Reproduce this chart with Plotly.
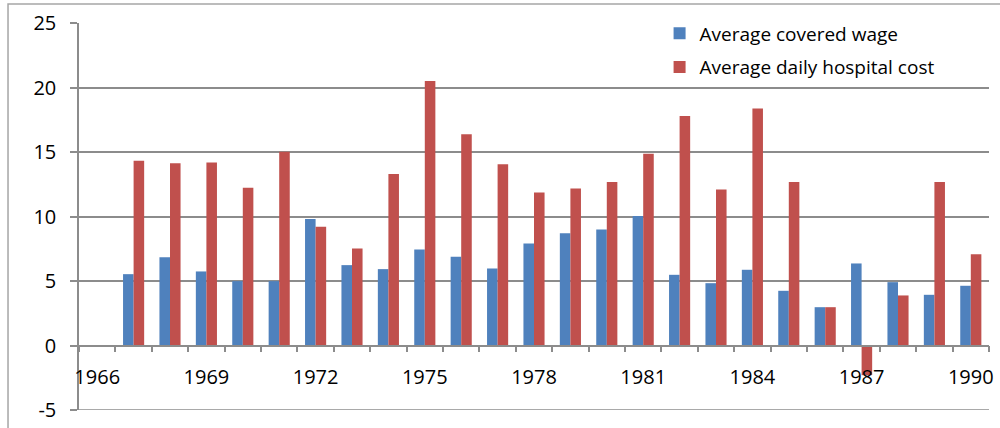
import plotly.graph_objects as go

# Annual percentage change, 1966-1990
years = [str(y) for y in range(1966, 1991)]
covered_wage = [None, 5.53, 6.85, 5.74, 4.99, 4.99, 9.80, 6.23, 5.92, 7.45, 6.88, 5.97,
                7.91, 8.71, 9.00, 10.03, 5.48, 4.83, 5.87, 4.24, 2.97, 6.36, 4.91, 3.93, 4.63]
hospital_cost = [None, 14.32, 14.12, 14.19, 12.23, 15.02, 9.20, 7.52, 13.29, 20.50, 16.37, 14.06,
                 11.87, 12.18, 12.67, 14.87, 17.79, 12.10, 18.38, 12.67, 2.97, -2.30, 3.88, 12.67, 7.08]
labelled_years = years[::3]
y_ticks = [-5, 0, 5, 10, 15, 20, 25]
series_names = ["Average covered wage", "Average daily hospital cost"]

FONT = "Open Sans"
GRID = "#8c8c8c"

fig = go.Figure()
fig.add_trace(go.Bar(x=years, y=covered_wage, name=series_names[0], legendgroup="a",
                     marker=dict(color="#4F81BD", line=dict(width=0))))
fig.add_trace(go.Bar(x=years, y=hospital_cost, name=series_names[1], legendgroup="b",
                     marker=dict(color="#C0504D", line=dict(width=0))))

fig.update_layout(
    width=1000, height=428,
    margin=dict(l=79, r=11, t=23, b=18),
    paper_bgcolor="white", plot_bgcolor="white",
    barmode="group", bargap=0.42, bargroupgap=0,
    font=dict(family=FONT, size=19, color="black"),
    showlegend=True,
    legend=dict(x=0.638, y=1.022, xanchor="left", yanchor="top",
                bgcolor="rgba(0,0,0,0)", tracegroupgap=6,
                font=dict(family=FONT, size=19, color="black")),
    xaxis=dict(type="category", categoryorder="array", categoryarray=years,
               range=[-0.5, len(years) - 0.5],
               anchor="free", position=5 / 30, automargin=False,
               showline=True, linecolor=GRID, linewidth=1.5,
               showgrid=False, zeroline=False,
               tickmode="array", tickvals=years,
               ticktext=[y if y in labelled_years else "" for y in years],
               tickson="boundaries", ticks="outside", ticklen=6, tickangle=0,
               tickcolor=GRID, tickwidth=1.5, ticklabelstandoff=14,
               tickfont=dict(size=20)),
    yaxis=dict(range=[-5, 25], automargin=False,
               tickmode="array", tickvals=y_ticks, ticktext=[str(v) for v in y_ticks],
               showgrid=True, gridcolor=GRID, gridwidth=1.5,
               zeroline=False, showline=True, linecolor=GRID, linewidth=1.5,
               ticks="outside", ticklen=7, tickcolor=GRID, tickwidth=1.5,
               ticklabelstandoff=10, tickfont=dict(size=20)),
    shapes=[
        # outer chart frame
        dict(type="rect", xref="paper", yref="paper",
             x0=-0.078, x1=1.05, y0=-0.1, y1=1.049,
             line=dict(color="#a6a6a6", width=1.5), fillcolor="rgba(0,0,0,0)"),
        # gridline along the lower edge of the value range
        dict(type="line", xref="paper", yref="y",
             x0=0, x1=1, y0=y_ticks[0], y1=y_ticks[0],
             line=dict(color=GRID, width=1.5)),
    ],
)

fig.write_html("out.html")
